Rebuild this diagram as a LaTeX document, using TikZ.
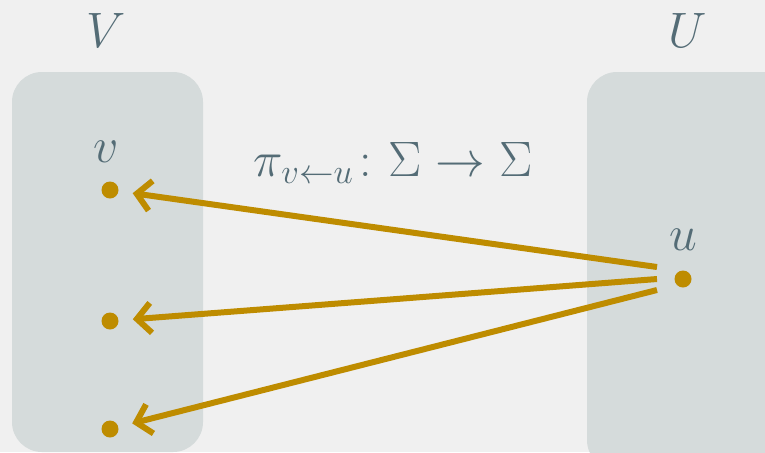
\documentclass[tikz,border=0pt]{standalone}
\usepackage{amsmath,amssymb}
\usepackage{xcolor}
\usepackage{tikz}
\usetikzlibrary{arrows.meta,positioning,calc}
\definecolor{bgpage}{RGB}{240,240,240}
\definecolor{setbox}{RGB}{213,219,219}
\definecolor{ink}{RGB}{84,108,118}
\definecolor{gold}{RGB}{190,140,0}
\tikzset{
  elem/.style={circle,fill=gold,inner sep=0pt,minimum size=8.5pt},
  lbl/.style={text=ink,font=\fontsize{24}{28}\selectfont},
  mapto/.style={gold,line width=3pt,-{Straight Barb[length=7pt,width=15pt,line width=3pt]},shorten >=7pt}
}
\begin{document}
\begin{tikzpicture}[x=0.5pt,y=-0.5pt]
\useasboundingbox[fill=bgpage] (0,0) rectangle (765,452);
% the two sets
\fill[setbox,rounded corners=15pt] (12,72) rectangle (203,452);
\fill[setbox,rounded corners=15pt] (587,72) rectangle (800,470);
\node[lbl] (Vlab) at (106,30) {$V$};
\node[lbl] (Ulab) at (688,30) {$U$};
% elements
\node[elem] (v1) at (110,190) {};
\node[elem] (v2) at (110,321) {};
\node[elem] (v3) at (110,429) {};
\node[elem] (u) at (683,279) {};
\node[lbl] (vlab) at (106,152) {$v$};
\node[lbl] (ulab) at (683,240) {$u$};
% maps
\coordinate (s1) at ($(u)+(-26,-12)$);
\coordinate (s2) at ($(u)+(-26,0)$);
\coordinate (s3) at ($(u)+(-26,11)$);
\draw[mapto] (s1) -- (v1);
\draw[mapto] (s2) -- (v2);
\draw[mapto] (s3) -- (v3);
\node[lbl] (pi) at (393,163) {$\pi_{v\leftarrow u}\colon \Sigma\to\Sigma$};
\end{tikzpicture}
\end{document}
